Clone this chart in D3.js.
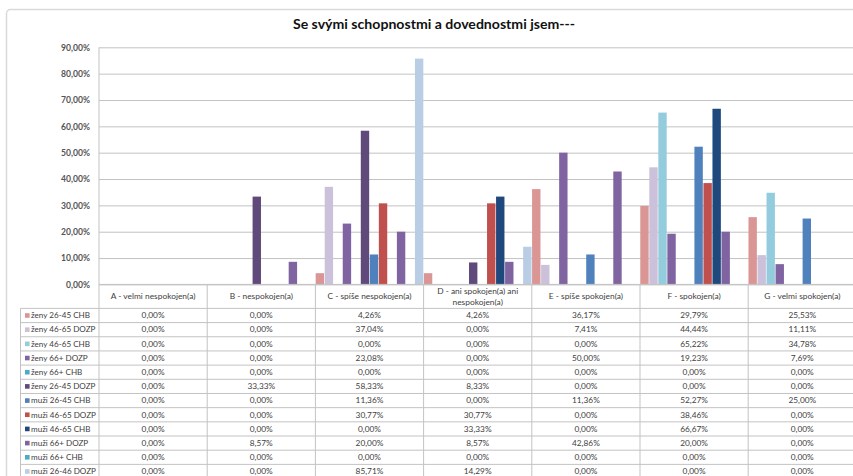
<!DOCTYPE html>
<html>
<head>
<meta charset="utf-8">
<script src="https://cdn.jsdelivr.net/npm/d3@7"></script>
<style>
  html, body { margin: 0; padding: 0; background: #fff; overflow: hidden; }
  svg { display: block; font-family: Lato, "Open Sans", "DejaVu Sans", sans-serif; }
</style>
</head>
<body>
<svg id="chart" width="853" height="476"></svg>
<script>
// ---- data ----
const chartTitle = "Se svými schopnostmi a dovednostmi jsem---";

const categories = [
  "A - velmi nespokojen(a)",
  "B - nespokojen(a)",
  "C - spíše nespokojen(a)",
  "D - ani spokojen(a) ani nespokojen(a)",
  "E - spíše spokojen(a)",
  "F - spokojen(a)",
  "G - velmi spokojen(a)"
];

const seriesNames = [
  "ženy 26-45 CHB",
  "ženy 46-65 DOZP",
  "ženy 46-65 CHB",
  "ženy 66+ DOZP",
  "ženy 66+ CHB",
  "ženy 26-45 DOZP",
  "muži 26-45 CHB",
  "muži 46-65 DOZP",
  "muži 46-65 CHB",
  "muži 66+ DOZP",
  "muži 66+ CHB",
  "muži 26-46 DOZP"
];

// percent per category A..G
const zeny2645CHB  = [0, 0, 4.26, 4.26, 36.17, 29.79, 25.53];
const zeny4665DOZP = [0, 0, 37.04, 0, 7.41, 44.44, 11.11];
const zeny4665CHB  = [0, 0, 0, 0, 0, 65.22, 34.78];
const zeny66DOZP   = [0, 0, 23.08, 0, 50.00, 19.23, 7.69];
const zeny66CHB    = [0, 0, 0, 0, 0, 0, 0];
const zeny2645DOZP = [0, 33.33, 58.33, 8.33, 0, 0, 0];
const muzi2645CHB  = [0, 0, 11.36, 0, 11.36, 52.27, 25.00];
const muzi4665DOZP = [0, 0, 30.77, 30.77, 0, 38.46, 0];
const muzi4665CHB  = [0, 0, 0, 33.33, 0, 66.67, 0];
const muzi66DOZP   = [0, 8.57, 20.00, 8.57, 42.86, 20.00, 0];
const muzi66CHB    = [0, 0, 0, 0, 0, 0, 0];
const muzi2646DOZP = [0, 0, 85.71, 14.29, 0, 0, 0];

const seriesValues = [
  zeny2645CHB, zeny4665DOZP, zeny4665CHB, zeny66DOZP, zeny66CHB, zeny2645DOZP,
  muzi2645CHB, muzi4665DOZP, muzi4665CHB, muzi66DOZP, muzi66CHB, muzi2646DOZP
];

const yTicks = [0, 10, 20, 30, 40, 50, 60, 70, 80, 90];

// ---- styles ----
const seriesColors = [
  "#DA9694", "#CCC1DA", "#93CDDD", "#8064A2", "#4BACC6", "#604A7B",
  "#4F81BD", "#C0504D", "#1F497D", "#8064A2", "#4BACC6", "#B9CDE5"
];
const gridColor = "#C3C3C3";
const textColor = "#404040";

// ---- layout ----
const W = 853, H = 476;
const plot = { left: 99, top: 47.3, bottom: 284.4, right: 856.4 };
const tableLeft = 20.5;
const headerBottom = 308.4;
const rowH = 14.18;

const svg = d3.select("#chart");
svg.append("rect").attr("width", W).attr("height", H).attr("fill", "#fff");

// chart frame
svg.append("rect")
  .attr("x", 6.5).attr("y", 9.5)
  .attr("width", 880).attr("height", 520)
  .attr("rx", 4)
  .attr("fill", "#fff")
  .attr("stroke", "#D9D9D9")
  .attr("stroke-width", 1.5);

// title
svg.append("text")
  .attr("x", 434).attr("y", 28.5)
  .attr("text-anchor", "middle")
  .attr("font-size", 14.1)
  .attr("font-weight", 700)
  .attr("fill", "#111")
  .text(chartTitle);

// scales
const fmt = v => d3.format(".2f")(v).replace(".", ",") + "%";

const x0 = d3.scaleBand()
  .domain(categories)
  .range([plot.left, plot.right])
  .paddingInner(0).paddingOuter(0);

const x1 = d3.scaleBand()
  .domain(d3.range(seriesNames.length))
  .range([0, x0.bandwidth()])
  .paddingInner(0.07).paddingOuter(0.03);

const y = d3.scaleLinear()
  .domain([0, 90])
  .range([plot.bottom, plot.top]);

// gridlines
const grid = svg.append("g")
  .attr("transform", `translate(${plot.left},0)`)
  .call(d3.axisLeft(y).tickValues(yTicks).tickSize(-(plot.right - plot.left)).tickFormat(""));
grid.select(".domain").remove();
grid.selectAll(".tick line").attr("stroke", gridColor).attr("stroke-width", 1);

// y axis labels
const yAxis = svg.append("g")
  .attr("transform", `translate(${plot.left},0)`)
  .call(d3.axisLeft(y).tickValues(yTicks).tickSize(0).tickPadding(9).tickFormat(fmt));
yAxis.select(".domain").remove();
yAxis.selectAll("text")
  .attr("font-size", 8.6)
  .attr("font-weight", 700)
  .attr("fill", "#555")
  .attr("font-family", "Lato, sans-serif");

// bars
const barData = [];
seriesValues.forEach((vals, s) => {
  vals.forEach((v, c) => barData.push({ s, c, v }));
});
svg.append("g").selectAll("rect")
  .data(barData.filter(d => d.v > 0))
  .join("rect")
  .attr("x", d => x0(categories[d.c]) + x1(d.s))
  .attr("width", x1.bandwidth())
  .attr("y", d => y(d.v))
  .attr("height", d => y(0) - y(d.v))
  .attr("fill", d => seriesColors[d.s]);

// ---- data table ----
const tableBottom = headerBottom + rowH * seriesNames.length;
const tbl = svg.append("g");

// vertical lines (plot left edge and category boundaries)
const bounds = categories.map(c => x0(c)).concat([plot.right]);
tbl.selectAll("line.v")
  .data(bounds)
  .join("line")
  .attr("x1", d => d).attr("x2", d => d)
  .attr("y1", (d, i) => i === 0 ? plot.top : plot.bottom)
  .attr("y2", tableBottom)
  .attr("stroke", gridColor);

// label column left edge
tbl.append("line")
  .attr("x1", tableLeft).attr("x2", tableLeft)
  .attr("y1", headerBottom).attr("y2", tableBottom)
  .attr("stroke", gridColor);

// horizontal lines
const hLines = [plot.bottom].concat(d3.range(seriesNames.length + 1).map(i => headerBottom + i * rowH));
tbl.selectAll("line.h")
  .data(hLines)
  .join("line")
  .attr("x1", (d, i) => i === 0 ? plot.left : tableLeft)
  .attr("x2", plot.right)
  .attr("y1", d => d).attr("y2", d => d)
  .attr("stroke", gridColor);

// header labels (wrap long ones into two lines)
const headerLines = c => c.length > 26 ? [c.slice(0, c.lastIndexOf(" ani ") + 4), c.slice(c.lastIndexOf(" ani ") + 5)] : [c];
const headG = tbl.selectAll("text.head")
  .data(categories)
  .join("text")
  .attr("text-anchor", "middle")
  .attr("font-size", 8.4)
  .attr("fill", textColor);
headG.each(function (c) {
  const lines = headerLines(c);
  const cx = x0(c) + x0.bandwidth() / 2;
  const t = d3.select(this);
  const firstY = (plot.bottom + headerBottom) / 2 + 3 - (lines.length - 1) * 5.8;
  lines.forEach((ln, i) => {
    t.append("tspan").attr("x", cx).attr("y", firstY + i * 11.6).text(ln);
  });
});

// rows
const rows = tbl.selectAll("g.row")
  .data(seriesNames)
  .join("g")
  .attr("transform", (d, i) => `translate(0,${headerBottom + i * rowH + rowH / 2})`);

rows.append("rect")
  .attr("x", 25).attr("y", -2.3)
  .attr("width", 4.6).attr("height", 4.6)
  .attr("fill", (d, i) => seriesColors[i]);

rows.append("text")
  .attr("x", 31).attr("y", 2.8)
  .attr("font-size", 8.1)
  .attr("fill", textColor)
  .text(d => d);

rows.each(function (name, s) {
  d3.select(this).selectAll("text.val")
    .data(seriesValues[s])
    .join("text")
    .attr("class", "val")
    .attr("x", (v, c) => x0(categories[c]) + x0.bandwidth() / 2)
    .attr("y", 2.8)
    .attr("text-anchor", "middle")
    .attr("font-size", 8.3)
    .attr("fill", textColor)
    .text(v => fmt(v));
});
</script>
</body>
</html>
